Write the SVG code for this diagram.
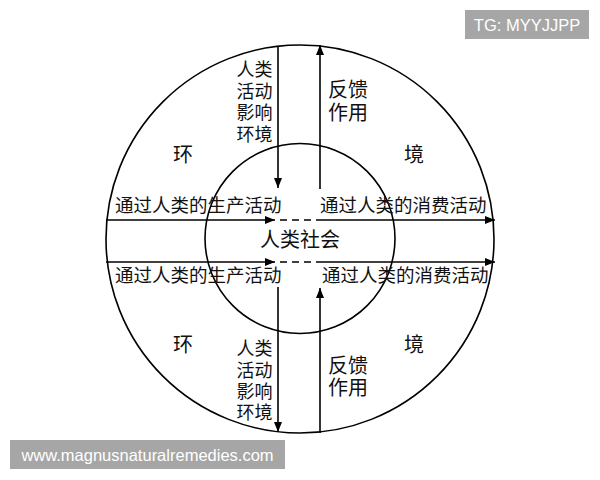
<svg xmlns="http://www.w3.org/2000/svg" width="600" height="480" viewBox="0 0 600 480">
<defs>
<marker id="ah" viewBox="0 0 10 8" refX="10" refY="4" markerWidth="10" markerHeight="8" markerUnits="userSpaceOnUse" orient="auto">
<path d="M0,0 L10,4 L0,8 Z" fill="#000"/>
</marker>
</defs>
<style>
.c{fill:none;stroke:#000;stroke-width:1.6}
.l{stroke:#000;stroke-width:1.6;fill:none}
.d{stroke:#000;stroke-width:1.6;stroke-dasharray:7,5;fill:none}
.t{font-family:"Liberation Serif","Noto Sans CJK SC",serif;font-size:18.5px;fill:#111}
.e{font-family:"Liberation Serif","Noto Sans CJK SC",serif;font-size:20px;fill:#111}
.v{font-family:"Liberation Serif","Noto Sans CJK SC",serif;font-size:18px;fill:#111}
.w{font-family:"Liberation Sans",Arial,sans-serif;font-size:16.5px;fill:#fff}
</style>
<rect width="600" height="480" fill="#fff"/>
<g id="outer"><circle class="c" cx="300" cy="239" r="194"/></g>
<g id="inner"><circle class="c" cx="300" cy="238.5" r="95"/></g>
<g id="connectors">
<line class="l" x1="278" y1="46" x2="278" y2="188" marker-end="url(#ah)"/>
<line class="l" x1="320" y1="189" x2="320" y2="45" marker-end="url(#ah)"/>
<line class="l" x1="278" y1="287" x2="278" y2="432" marker-end="url(#ah)"/>
<line class="l" x1="320" y1="433" x2="320" y2="288" marker-end="url(#ah)"/>
<line class="l" x1="106" y1="220" x2="275" y2="220" marker-end="url(#ah)"/>
<line class="d" x1="280" y1="220" x2="320" y2="220"/>
<line class="l" x1="320" y1="220" x2="495" y2="220" marker-end="url(#ah)"/>
<line class="l" x1="106" y1="262" x2="275" y2="262" marker-end="url(#ah)"/>
<line class="d" x1="280" y1="262" x2="320" y2="262"/>
<line class="l" x1="320" y1="262" x2="495" y2="262" marker-end="url(#ah)"/>
</g>
<g id="society"><text class="e" x="300" y="247" text-anchor="middle">人类社会</text></g>
<g id="label-prod-top"><text class="t" x="115" y="212">通过人类的生产活动</text></g>
<g id="label-cons-top"><text class="t" x="320" y="212">通过人类的消费活动</text></g>
<g id="label-prod-bottom"><text class="t" x="115" y="282">通过人类的生产活动</text></g>
<g id="label-cons-bottom"><text class="t" x="322" y="282">通过人类的消费活动</text></g>
<g id="env-tl"><text class="e" x="183" y="162" text-anchor="middle">环</text></g>
<g id="env-tr"><text class="e" x="414" y="162" text-anchor="middle">境</text></g>
<g id="env-bl"><text class="e" x="183" y="352" text-anchor="middle">环</text></g>
<g id="env-br"><text class="e" x="414" y="352" text-anchor="middle">境</text></g>
<g id="impact-top">
<text class="v" x="254.5" y="76" text-anchor="middle">人类</text>
<text class="v" x="254.5" y="97.5" text-anchor="middle">活动</text>
<text class="v" x="254.5" y="119" text-anchor="middle">影响</text>
<text class="v" x="254.5" y="141" text-anchor="middle">环境</text>
</g>
<g id="feedback-top">
<text class="e" x="348" y="97" text-anchor="middle">反馈</text>
<text class="e" x="348" y="120" text-anchor="middle">作用</text>
</g>
<g id="impact-bottom">
<text class="v" x="254.5" y="355" text-anchor="middle">人类</text>
<text class="v" x="254.5" y="377" text-anchor="middle">活动</text>
<text class="v" x="254.5" y="398" text-anchor="middle">影响</text>
<text class="v" x="254.5" y="419" text-anchor="middle">环境</text>
</g>
<g id="feedback-bottom">
<text class="e" x="348" y="373" text-anchor="middle">反馈</text>
<text class="e" x="348" y="395" text-anchor="middle">作用</text>
</g>
<g id="wm-top"><rect x="465" y="10" width="124" height="29" fill="#a6a6a6"/><text class="w" x="527" y="30.5" text-anchor="middle">TG: MYYJJPP</text></g>
<g id="wm-bottom"><rect x="10" y="440" width="275" height="29" fill="#a6a6a6"/><text class="w" x="147.5" y="460.5" text-anchor="middle">www.magnusnaturalremedies.com</text></g>
</svg>
